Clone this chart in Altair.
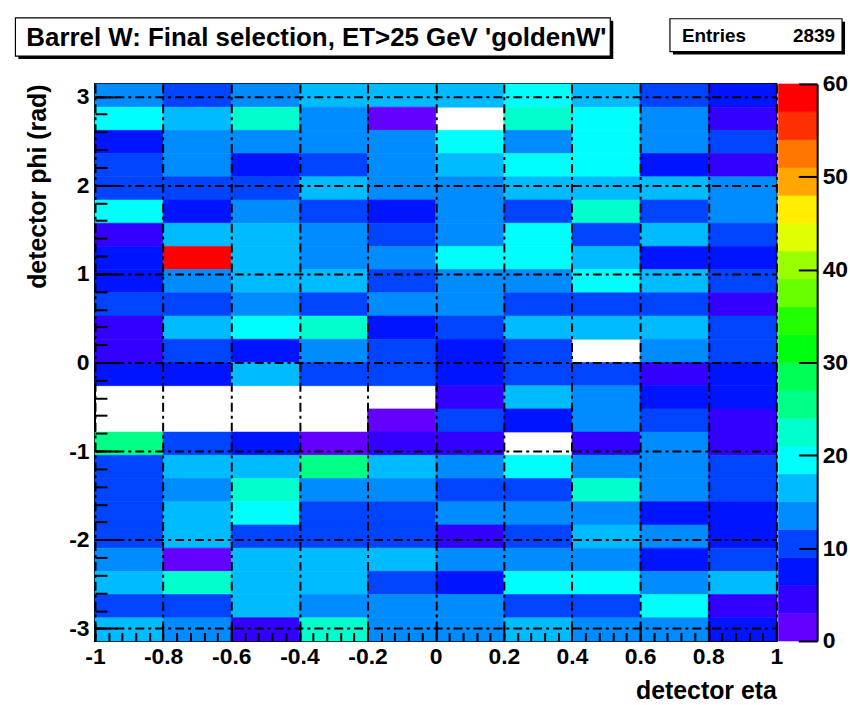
import math
import altair as alt
import pandas as pd

PI = math.pi

# ---------------- data ----------------
eta_edges = [-1.0, -0.8, -0.6, -0.4, -0.2, 0.0, 0.2, 0.4, 0.6, 0.8, 1.0]
n_phi_bins = 24

# entries per phi bin for each eta bin, listed from phi=+pi (top) down to phi=-pi
eta_m10_m08 = [13, 19, 7, 10, 10, 19, 4, 7, 7, 10, 4, 4, 7, 0, 0, 25, 10, 10, 11, 10, 13, 16, 10, 16]
eta_m08_m06 = [10, 16, 13, 14, 10, 7, 16, 58, 13, 10, 16, 10, 7, 0, 0, 10, 16, 13, 16, 17, 1, 22, 10, 13]
eta_m06_m04 = [13, 22, 13, 7, 10, 14, 16, 17, 16, 13, 19, 7, 16, 0, 0, 7, 16, 22, 19, 10, 16, 17, 16, 4]
eta_m04_m02 = [16, 13, 14, 10, 16, 10, 13, 13, 16, 10, 22, 13, 10, 0, 0, 1, 25, 13, 10, 11, 16, 16, 13, 22]
eta_m02_p00 = [16, 1, 13, 13, 14, 7, 10, 13, 10, 13, 7, 10, 10, 0, 1, 4, 16, 13, 10, 10, 17, 10, 13, 13]
eta_p00_p02 = [16, 0, 19, 16, 13, 14, 13, 19, 13, 13, 10, 7, 7, 4, 10, 4, 13, 10, 13, 4, 13, 7, 14, 13]
eta_p02_p04 = [19, 22, 13, 19, 16, 10, 19, 20, 13, 10, 16, 10, 10, 16, 7, 0, 19, 10, 13, 10, 13, 19, 10, 16]
eta_p04_p06 = [16, 19, 19, 20, 16, 22, 10, 16, 19, 10, 16, 0, 10, 13, 14, 4, 13, 22, 13, 16, 13, 19, 10, 13]
eta_p06_p08 = [10, 13, 14, 7, 16, 10, 16, 7, 16, 10, 16, 13, 4, 7, 10, 13, 13, 14, 7, 13, 7, 13, 19, 13]
eta_p08_p10 = [7, 4, 10, 4, 13, 13, 10, 7, 10, 4, 10, 10, 7, 7, 4, 4, 10, 10, 7, 7, 10, 16, 4, 7]

eta_columns = [eta_m10_m08, eta_m08_m06, eta_m06_m04, eta_m04_m02, eta_m02_p00,
               eta_p00_p02, eta_p02_p04, eta_p04_p06, eta_p06_p08, eta_p08_p10]

palette_levels = [0, 3, 6, 9, 12, 15, 18, 21, 24, 27, 30, 33, 36, 39, 42, 45, 48, 51, 54, 57, 60]
palette_colors = ["#6300ff", "#3300ff", "#0014ff", "#0044ff", "#008bff", "#00bbff",
                  "#00fffc", "#00ffcc", "#00ff85", "#00ff55", "#00ff0e", "#22ff00",
                  "#69ff00", "#99ff00", "#e0ff00", "#ffee00", "#ffa700", "#ff7700",
                  "#ff3000", "#ff0000"]

x_major_ticks = [-1.0, -0.8, -0.6, -0.4, -0.2, 0.0, 0.2, 0.4, 0.6, 0.8, 1.0]
y_major_ticks = [-3, -2, -1, 0, 1, 2, 3]
z_major_ticks = [0, 10, 20, 30, 40, 50, 60]
x_minor_ticks = [round(-1.0 + 0.04 * i, 2) for i in range(51)]
y_minor_ticks = [round(-3.0 + 0.2 * i, 1) for i in range(31)]

title_text = "Barrel W: Final selection, ET>25 GeV 'goldenW'"
entries_label = "Entries"
entries_value = "2839"
x_title = "detector eta"
y_title = "detector phi (rad)"

# ---------------- tables ----------------
dphi = 2 * PI / n_phi_bins
rows = []
for c, col in enumerate(eta_columns):
    for k, n in enumerate(col):
        hi = PI - k * dphi
        rows.append(dict(eta_lo=eta_edges[c], eta_hi=eta_edges[c + 1],
                         phi_lo=hi - dphi, phi_hi=hi, n=n))
heat_df = pd.DataFrame(rows)

bar_df = pd.DataFrame({"lo": palette_levels[:-1], "hi": palette_levels[1:],
                       "left": 0.0, "right": 1.0})

FONT = "Liberation Sans"
cscale = alt.Scale(type="threshold", domain=palette_levels[1:-1], range=palette_colors)
xs = alt.Scale(domain=[-1, 1], nice=False, zero=False)
ys = alt.Scale(domain=[-PI, PI], nice=False, zero=False)

GRID = dict(grid=True, gridColor="black", gridDash=[9, 4, 3, 4], gridWidth=2, gridOpacity=1)
LAB = dict(labelFont=FONT, labelFontSize=23, labelFontWeight="bold", labelColor="black",
           labelFlush=False, labelOverlap=False, labelExpr="toString(datum.value)")
TIT = dict(titleFont=FONT, titleFontSize=25, titleFontWeight="bold", titleColor="black",
           titleAnchor="end")

x_axis_main = alt.Axis(orient="bottom", values=x_major_ticks, ticks=False, domain=False,
                       labelPadding=5, title=x_title, titlePadding=10, zindex=1, **GRID, **LAB, **TIT)
y_axis_main = alt.Axis(orient="left", values=y_major_ticks, ticks=False, domain=False,
                       labelPadding=6, title=y_title, titlePadding=18, zindex=1, **GRID, **LAB, **TIT)

def tick_axis(orient, values, size):
    return alt.Axis(orient=orient, values=values, labels=False, domain=False, grid=False,
                    ticks=True, tickSize=size, offset=-size, tickColor="black", tickWidth=2,
                    title=None, zindex=2)

base = alt.Chart(heat_df)
cells = base.transform_filter("datum.n > 0").mark_rect(strokeWidth=0.6).encode(
    x=alt.X("eta_lo:Q", scale=xs, axis=x_axis_main), x2="eta_hi:Q",
    y=alt.Y("phi_lo:Q", scale=ys, axis=y_axis_main), y2="phi_hi:Q",
    color=alt.Color("n:Q", scale=cscale, legend=None),
    stroke=alt.Stroke("n:Q", scale=cscale, legend=None),
)
major = base.mark_rect(opacity=0).encode(
    x=alt.X("eta_lo:Q", scale=xs, axis=tick_axis("bottom", x_major_ticks, 17)),
    y=alt.Y("phi_lo:Q", scale=ys, axis=tick_axis("left", y_major_ticks, 22)),
)
minor = base.mark_rect(opacity=0).encode(
    x=alt.X("eta_hi:Q", scale=xs, axis=tick_axis("bottom", x_minor_ticks, 8.5)),
    y=alt.Y("phi_hi:Q", scale=ys, axis=tick_axis("left", y_minor_ticks, 12)),
)

one = pd.DataFrame({"t": [title_text]})
ent_l = pd.DataFrame({"t": [entries_label]})
ent_v = pd.DataFrame({"t": [entries_value]})

def box(x1, x2, y1, y2):
    sh = alt.Chart(one).mark_rect(fill="black").encode(
        x=alt.value(x1 + 3), x2=alt.value(x2 + 3), y=alt.value(y1 + 3), y2=alt.value(y2 + 3))
    bx = alt.Chart(one).mark_rect(fill="white", stroke="black", strokeWidth=1.2).encode(
        x=alt.value(x1), x2=alt.value(x2), y=alt.value(y1), y2=alt.value(y2))
    return [sh, bx]

title_txt = alt.Chart(one).mark_text(align="left", baseline="alphabetic", font=FONT,
                                     fontSize=26, fontWeight="bold", color="black").encode(
    x=alt.value(-69), y=alt.value(-38), text="t:N")
ent_txt = alt.Chart(ent_l).mark_text(align="left", baseline="alphabetic", font=FONT,
                                     fontSize=19, fontWeight="bold", color="black").encode(
    x=alt.value(590), y=alt.value(-42), text="t:N")
ent_num = alt.Chart(ent_v).mark_text(align="right", baseline="alphabetic", font=FONT,
                                     fontSize=19, fontWeight="bold", color="black").encode(
    x=alt.value(744), y=alt.value(-42), text="t:N")

main = alt.layer(
    cells, major, minor,
    *box(-80, 518, -66.5, -28), title_txt,
    *box(578, 751, -65.5, -32.5), ent_txt, ent_num,
).resolve_axis(x="independent", y="independent").properties(
    width=685, height=560, view=alt.ViewBackground(stroke="black", strokeWidth=2))

cb_xs = alt.Scale(domain=[0, 1], nice=False, zero=False)
cb_ys = alt.Scale(domain=[0, 60], nice=False, zero=False)
bands = alt.Chart(bar_df).mark_rect(strokeWidth=0.6).encode(
    x=alt.X("left:Q", scale=cb_xs, axis=None), x2="right:Q",
    y=alt.Y("lo:Q", scale=cb_ys, axis=alt.Axis(orient="right", values=z_major_ticks, ticks=False,
                                               domain=True, domainColor="black", domainWidth=2,
                                               labelPadding=5, grid=False, title=None, zindex=1, **LAB)),
    y2="hi:Q",
    color=alt.Color("lo:Q", scale=cscale, legend=None),
    stroke=alt.Stroke("lo:Q", scale=cscale, legend=None),
)
band_ticks = alt.Chart(bar_df).mark_rect(opacity=0).encode(
    x=alt.X("left:Q", scale=cb_xs, axis=None),
    y=alt.Y("hi:Q", scale=cb_ys, axis=tick_axis("right", z_major_ticks, 19)),
)
colorbar = alt.layer(bands, band_ticks).resolve_axis(y="independent").properties(
    width=39, height=560, view=alt.ViewBackground(strokeWidth=0))

chart = alt.hconcat(main, colorbar, spacing=2, bounds="flush").properties(
    padding={"left": 13.5, "top": 13.5, "right": 2, "bottom": 2},
    background="white",
).configure_view(strokeWidth=0)

chart.save("out.html", embed_options={"renderer": "svg", "actions": False})
